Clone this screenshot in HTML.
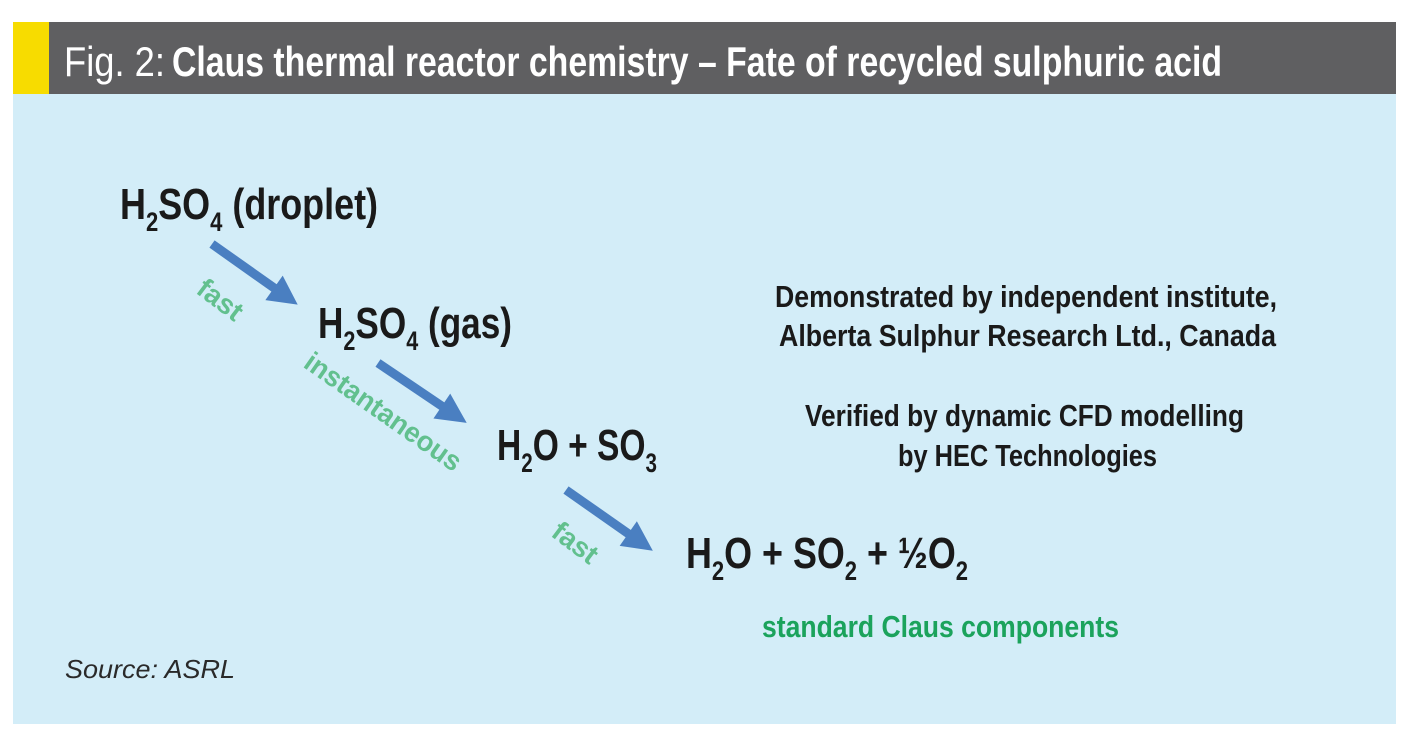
<!DOCTYPE html>
<html><head><meta charset="utf-8"><style>
html,body{margin:0;padding:0;background:#fff;width:1420px;height:747px;overflow:hidden}
svg{display:block}
</style></head><body>
<svg width="1420" height="747" viewBox="0 0 1420 747" xmlns="http://www.w3.org/2000/svg">
<rect x="0" y="0" width="1420" height="747" fill="#fff"/>
<rect x="13" y="94" width="1383" height="630" fill="#d3edf8"/>
<rect x="13" y="22" width="1383" height="72" fill="#5f5f61"/>
<rect x="13" y="22" width="36" height="72" fill="#f7dc00"/>
<g font-family="Liberation Sans, sans-serif" fill="#fff" font-size="42">
<text x="64" y="76" textLength="101" lengthAdjust="spacingAndGlyphs">Fig. 2:</text>
<text x="172" y="76" font-weight="bold" textLength="1050" lengthAdjust="spacingAndGlyphs">Claus thermal reactor chemistry – Fate of recycled sulphuric acid</text>
</g>
<g font-family="Liberation Sans, sans-serif" font-weight="bold" fill="#1a1a1a" font-size="44">
<text x="120" y="219" textLength="258" lengthAdjust="spacingAndGlyphs">H<tspan font-size="27" dy="12">2</tspan><tspan dy="-12">SO</tspan><tspan font-size="27" dy="12">4</tspan><tspan dy="-12"> (droplet)</tspan></text>
<text x="318" y="338" textLength="194" lengthAdjust="spacingAndGlyphs">H<tspan font-size="27" dy="12">2</tspan><tspan dy="-12">SO</tspan><tspan font-size="27" dy="12">4</tspan><tspan dy="-12"> (gas)</tspan></text>
<text x="497" y="460" textLength="160" lengthAdjust="spacingAndGlyphs">H<tspan font-size="27" dy="12">2</tspan><tspan dy="-12">O + SO</tspan><tspan font-size="27" dy="12">3</tspan></text>
<text x="686" y="568" textLength="282" lengthAdjust="spacingAndGlyphs">H<tspan font-size="27" dy="12">2</tspan><tspan dy="-12">O + SO</tspan><tspan font-size="27" dy="12">2</tspan><tspan dy="-12"> + ½O</tspan><tspan font-size="27" dy="12">2</tspan></text>
</g>
<g font-family="Liberation Sans, sans-serif" font-weight="bold" fill="#1a1a1a" font-size="31">
<text x="775" y="307" textLength="502" lengthAdjust="spacingAndGlyphs">Demonstrated by independent institute,</text>
<text x="779" y="346" textLength="497" lengthAdjust="spacingAndGlyphs">Alberta Sulphur Research Ltd., Canada</text>
<text x="805" y="426" textLength="439" lengthAdjust="spacingAndGlyphs">Verified by dynamic CFD modelling</text>
<text x="898" y="466" textLength="259" lengthAdjust="spacingAndGlyphs">by HEC Technologies</text>
</g>
<text x="762" y="637" font-family="Liberation Sans, sans-serif" font-weight="bold" font-size="31" fill="#1ba35c" textLength="357" lengthAdjust="spacingAndGlyphs">standard Claus components</text>
<text x="65" y="678" font-family="Liberation Sans, sans-serif" font-style="italic" font-size="26" fill="#2a2a2a" textLength="170" lengthAdjust="spacingAndGlyphs">Source: ASRL</text>
<g fill="#4a7fc1">
<g transform="translate(212,244) rotate(35.3)"><rect x="0" y="-4.5" width="80" height="9"/><polygon points="76,-15 105,0 76,15"/></g>
<g transform="translate(378,363) rotate(34)"><rect x="0" y="-4.5" width="81" height="9"/><polygon points="77,-15 107,0 77,15"/></g>
<g transform="translate(566,490) rotate(35)"><rect x="0" y="-4.5" width="80" height="9"/><polygon points="76,-15 106,0 76,15"/></g>
</g>
<g font-family="Liberation Sans, sans-serif" font-weight="bold" fill="#62c08e" font-size="28">
<text transform="translate(220,300) rotate(37)" text-anchor="middle" dy="9">fast</text>
<text transform="translate(383,412) rotate(35)" text-anchor="middle" dy="9" textLength="185" lengthAdjust="spacingAndGlyphs">instantaneous</text>
<text transform="translate(575,543) rotate(37)" text-anchor="middle" dy="9">fast</text>
</g>
</svg>
</body></html>
